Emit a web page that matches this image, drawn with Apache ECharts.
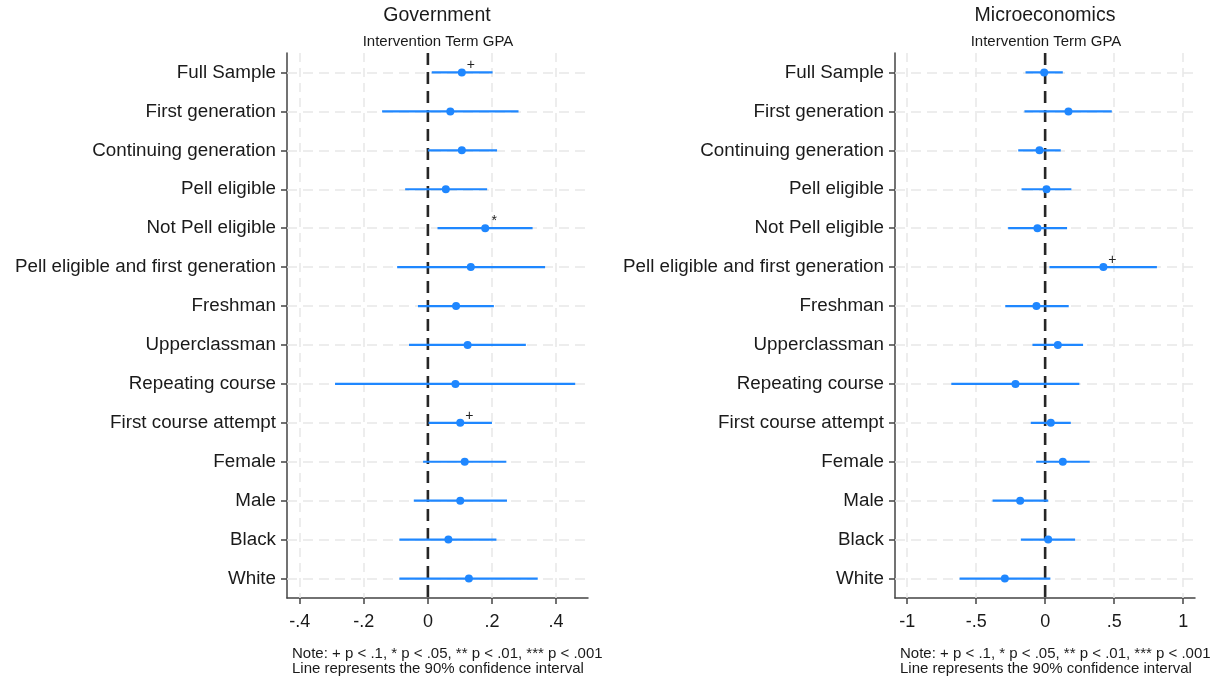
<!DOCTYPE html>
<html><head><meta charset="utf-8">
<script src="https://cdn.jsdelivr.net/npm/echarts@6/dist/echarts.min.js"></script>
<style>html,body{margin:0;padding:0;background:#fff}#c{width:1225px;height:681px}</style>
</head><body><div id="c"></div>
<script>
const categories = ["Full Sample","First generation","Continuing generation","Pell eligible","Not Pell eligible","Pell eligible and first generation","Freshman","Upperclassman","Repeating course","First course attempt","Female","Male","Black","White"];

const govEst = [0.106,0.070,0.106,0.056,0.179,0.134,0.088,0.124,0.086,0.101,0.115,0.101,0.064,0.128];
const govLo  = [0.012,-0.143,0.000,-0.071,0.030,-0.096,-0.031,-0.059,-0.290,0.002,-0.015,-0.044,-0.089,-0.089];
const govHi  = [0.202,0.283,0.216,0.185,0.327,0.366,0.206,0.306,0.460,0.200,0.245,0.247,0.214,0.343];
const govSig = ["+","","","","*","","","","","+","","","",""];

const micEst = [-0.007,0.169,-0.041,0.010,-0.056,0.422,-0.063,0.092,-0.215,0.041,0.128,-0.181,0.022,-0.292];
const micLo  = [-0.142,-0.150,-0.195,-0.171,-0.268,0.031,-0.289,-0.092,-0.680,-0.104,-0.065,-0.381,-0.176,-0.620];
const micHi  = [0.128,0.483,0.113,0.190,0.159,0.810,0.171,0.275,0.248,0.186,0.323,0.022,0.217,0.038];
const micSig = ["","","","","","+","","","","","","","",""];

const govTicks = [-0.4,-0.2,0,0.2,0.4];
const micTicks = [-1,-0.5,0,0.5,1];

const titles = ["Government","Microeconomics"];
const subtitle = "Intervention Term GPA";
const note1 = "Note: + p < .1, * p < .05, ** p < .01, *** p < .001";
const note2 = "Line represents the 90% confidence interval";

const BLUE = '#1f87ff';
const GRID_C = '#e8e8e8';
const TXT = '#1a1a1a';
const FONT = 'Liberation Sans, Arial, sans-serif';

function fmtTick(v){
  if (Math.abs(v) < 1e-9) return '0';
  let s = String(+v.toFixed(2));
  s = s.replace(/^0\./,'.').replace(/^-0\./,'-.');
  return s;
}

const panels = [
  {est: govEst, lo: govLo, hi: govHi, sig: govSig, ticks: govTicks, min: -0.44, max: 0.5, left: 287, right: 637, tcx: 437},
  {est: micEst, lo: micLo, hi: micHi, sig: micSig, ticks: micTicks, min: -1.088, max: 1.086, left: 895, right: 30, tcx: 1045}
];

const grid = [], xAxis = [], yAxis = [], series = [], title = [];
panels.forEach((p, i) => {
  grid.push({left: p.left, right: p.right, top: 53, bottom: 83});
  xAxis.push({
    type: 'value', gridIndex: i, min: p.min, max: p.max,
    axisLine: {show: true, onZero: false, lineStyle: {color: '#444', width: 1.5}},
    axisTick: {show: true, length: 6, customValues: p.ticks, lineStyle: {color: '#444', width: 1.5}},
    axisLabel: {customValues: p.ticks, formatter: fmtTick, fontSize: 18, color: TXT, fontFamily: FONT, margin: 15},
    splitLine: {show: false}
  });
  yAxis.push({
    type: 'category', gridIndex: i, data: categories, inverse: true, boundaryGap: true,
    axisLine: {show: true, onZero: false, lineStyle: {color: '#444', width: 1.5}},
    axisTick: {show: true, alignWithLabel: true, length: 6, lineStyle: {color: '#444', width: 1.5}},
    axisLabel: {fontSize: 18.8, color: TXT, fontFamily: FONT, margin: 11},
    splitLine: {show: false}
  });
  // grid lines
  series.push({
    type: 'line', xAxisIndex: i, yAxisIndex: i, data: [], silent: true, z: 1,
    markLine: {
      silent: true, symbol: 'none', label: {show: false}, animation: false, z: 1,
      data: [
        ...p.ticks.filter(t => t !== 0).map(t => ({xAxis: t, lineStyle: {color: GRID_C, width: 1.5, type: [9,6]}})),
        ...categories.map(c => ({yAxis: c, lineStyle: {color: GRID_C, width: 1.5, type: [10,6]}}))
      ]
    }
  });
  // zero reference line (dashed, spans the plot height)
  series.push({
    type: 'custom', xAxisIndex: i, yAxisIndex: i, z: 3, silent: true,
    data: [[0, 0]],
    renderItem: (params, api) => {
      const cs = params.coordSys;
      const x = api.coord([api.value(0), 0])[0];
      return {type: 'line', shape: {x1: x, y1: cs.y, x2: x, y2: cs.y + cs.height},
        style: {stroke: '#262626', lineWidth: 2.6, lineDash: [12, 7]}};
    },
    encode: {x: 0, y: 1}
  });
  // CI bars
  series.push({
    type: 'custom', xAxisIndex: i, yAxisIndex: i, z: 4,
    data: categories.map((c, k) => [p.lo[k], p.hi[k], k]),
    renderItem: (params, api) => {
      const a = api.coord([api.value(0), api.value(2)]);
      const b = api.coord([api.value(1), api.value(2)]);
      return {type: 'line', shape: {x1: a[0], y1: a[1], x2: b[0], y2: b[1]}, style: {stroke: BLUE, lineWidth: 2.2}};
    },
    encode: {x: [0,1], y: 2}
  });
  // point estimates
  series.push({
    type: 'scatter', xAxisIndex: i, yAxisIndex: i, z: 5,
    symbol: 'circle', symbolSize: 8, itemStyle: {color: BLUE, opacity: 1},
    data: categories.map((c, k) => [p.est[k], c]),
    label: {
      show: true, position: 'top', distance: 0, offset: [9, 4],
      formatter: (d) => p.sig[d.dataIndex], fontSize: 14, color: '#222', fontFamily: FONT
    }
  });
  title.push({text: titles[i], left: p.tcx, textAlign: 'center', top: 6, padding: 0,
    textStyle: {fontSize: 19.5, fontWeight: 'normal', color: TXT, fontFamily: FONT}});
  title.push({text: subtitle, left: p.tcx + 1, textAlign: 'center', top: 34, padding: 0,
    textStyle: {fontSize: 15, fontWeight: 'normal', color: TXT, fontFamily: FONT}});
  title.push({text: note1 + '\n' + note2, left: p.left + 5, top: 646, padding: 0,
    textStyle: {fontSize: 15, fontWeight: 'normal', color: TXT, fontFamily: FONT, lineHeight: 15}});
});

const chart = echarts.init(document.getElementById('c'), null, {renderer: 'canvas'});
chart.setOption({animation: false, backgroundColor: '#fff', title, grid, xAxis, yAxis, series});
</script></body></html>
